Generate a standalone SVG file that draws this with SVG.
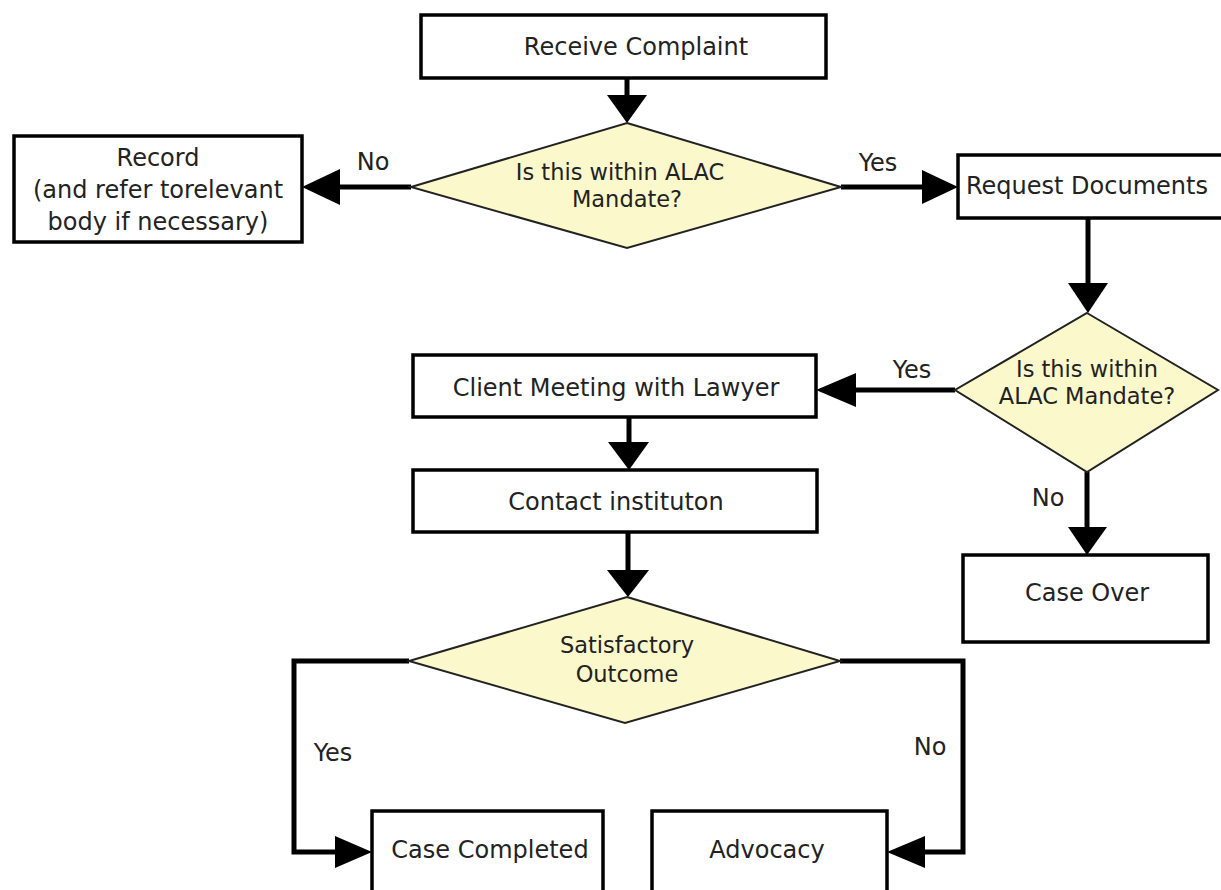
<svg xmlns="http://www.w3.org/2000/svg" width="1221" height="890" viewBox="0 0 1221 890">
<style>
.box{fill:#fff;stroke:#000;stroke-width:3.5}
.dia{fill:#FBF8CC;stroke:#222;stroke-width:2}
.t{font-family:"DejaVu Sans",Verdana,sans-serif;font-size:24px;fill:#222;text-anchor:middle}
.d{font-size:22.5px}
.ln{fill:none;stroke:#000;stroke-width:5}
.ah{fill:#000}
</style>
<rect width="1221" height="890" fill="#fff"/>
<g id="connectors">
<line class="ln" x1="627" y1="78" x2="627" y2="97"/>
<polygon class="ah" points="607,95 647,95 627,123"/>
<line class="ln" x1="411" y1="187" x2="338" y2="187"/>
<polygon class="ah" points="302,187 340,169 340,205"/>
<line class="ln" x1="841" y1="187" x2="924" y2="187"/>
<polygon class="ah" points="958,187 922,170 922,204"/>
<line class="ln" x1="1088" y1="218" x2="1088" y2="285"/>
<polygon class="ah" points="1068,283 1108,283 1088,313"/>
<line class="ln" x1="955" y1="390" x2="854" y2="390"/>
<polygon class="ah" points="816,390 856,373 856,407"/>
<line class="ln" x1="1087" y1="472" x2="1087" y2="529"/>
<polygon class="ah" points="1068,527 1107,527 1087,555"/>
<line class="ln" x1="629" y1="417" x2="629" y2="444"/>
<polygon class="ah" points="608,442 649,442 629,470"/>
<line class="ln" x1="628" y1="532" x2="628" y2="572"/>
<polygon class="ah" points="607,570 649,570 628,597"/>
<polyline class="ln" points="409,661 294,661 294,852 337,852"/>
<polygon class="ah" points="372,852 335,836 335,868"/>
<polyline class="ln" points="840,661 963,661 963,852 923,852"/>
<polygon class="ah" points="887,852 925,836 925,868"/>
</g>
<g id="lbl-no1"><text class="t" x="373" y="170">No</text></g>
<g id="lbl-yes1"><text class="t" x="878" y="171">Yes</text></g>
<g id="lbl-yes2"><text class="t" x="912" y="378">Yes</text></g>
<g id="lbl-no2"><text class="t" x="1048" y="506">No</text></g>
<g id="lbl-yes3"><text class="t" x="333" y="761">Yes</text></g>
<g id="lbl-no3"><text class="t" x="930" y="755">No</text></g>
<g id="receive">
<rect class="box" x="421" y="15" width="405" height="63"/>
<text class="t" x="636" y="55">Receive Complaint</text>
</g>
<g id="decision1">
<polygon class="dia" points="627,123 841,187 627,248 411,187"/>
<text class="t d" x="620" y="180">Is this within ALAC</text>
<text class="t d" x="627" y="207">Mandate?</text>
</g>
<g id="record">
<rect class="box" x="14" y="136" width="288" height="106"/>
<text class="t" x="158" y="166">Record</text>
<text class="t" x="158" y="198">(and refer torelevant</text>
<text class="t" x="158" y="230">body if necessary)</text>
</g>
<g id="request">
<rect class="box" x="958" y="155" width="290" height="63"/>
<text class="t" x="966" y="194" style="text-anchor:start">Request Documents</text>
</g>
<g id="decision2">
<polygon class="dia" points="1087,313 1218,390 1087,472 955,390"/>
<text class="t d" x="1087" y="377">Is this within</text>
<text class="t d" x="1087" y="404">ALAC Mandate?</text>
</g>
<g id="client">
<rect class="box" x="413" y="355" width="403" height="62"/>
<text class="t" x="616" y="396">Client Meeting with Lawyer</text>
</g>
<g id="contact">
<rect class="box" x="413" y="470" width="404" height="62"/>
<text class="t" x="616" y="510">Contact instituton</text>
</g>
<g id="caseover">
<rect class="box" x="963" y="555" width="245" height="87"/>
<text class="t" x="1087" y="601">Case Over</text>
</g>
<g id="decision3">
<polygon class="dia" points="627,597 840,661 625,723 409,661"/>
<text class="t d" x="627" y="653">Satisfactory</text>
<text class="t d" x="627" y="682">Outcome</text>
</g>
<g id="completed">
<rect class="box" x="372" y="811" width="231" height="110"/>
<text class="t" x="490" y="858">Case Completed</text>
</g>
<g id="advocacy">
<rect class="box" x="652" y="811" width="235" height="110"/>
<text class="t" x="767" y="858">Advocacy</text>
</g>
</svg>
